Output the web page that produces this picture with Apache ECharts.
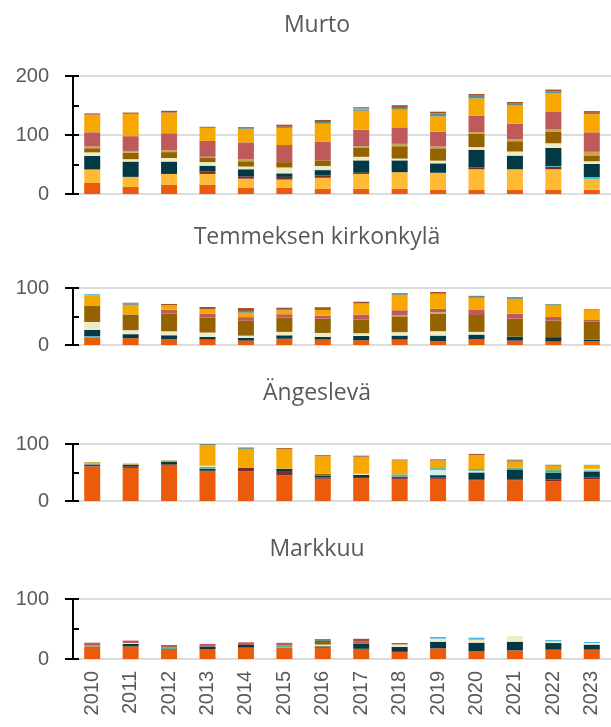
<!DOCTYPE html>
<html>
<head>
<meta charset="utf-8">
<script src="https://cdn.jsdelivr.net/npm/echarts@6/dist/echarts.min.js"></script>
<style>
  html, body { margin: 0; padding: 0; background: #fff; }
  #chart { width: 611px; height: 727px; }
</style>
</head>
<body>
<div id="chart"></div>
<script>
const years = ["2010", "2011", "2012", "2013", "2014", "2015", "2016", "2017", "2018", "2019", "2020", "2021", "2022", "2023"];

// Murto
const murtoOrange = [18.6, 12, 16, 16, 11, 11, 9, 9, 9, 7, 7, 7, 7, 7];
const murtoLightOrange = [23, 17, 18, 18, 15, 13.5, 18.5, 25, 28, 29, 35, 35, 35, 17.5];
const murtoDarkRed = [0, 0, 0, 4, 4, 4.5, 4, 2, 0, 0, 3, 0, 4, 0];
const murtoCyan = [0, 0, 0, 0, 0, 0, 0, 0, 0, 0, 0, 0, 1, 4];
const murtoDarkTeal = [23, 26, 21, 10, 12, 6, 9, 21, 20, 16, 30, 23, 31, 22.5];
const murtoCream = [6, 4, 6, 6, 4.5, 10, 7, 6, 3, 4.5, 4.5, 7, 8, 4.5];
const murtoBrown = [7, 11, 10, 7, 9, 9, 9.5, 15, 21, 21, 22.5, 17.5, 20, 10];
const murtoOlive = [3, 3, 3, 2, 3, 0, 0, 3, 4, 3, 3, 3, 4, 6];
const murtoRose = [24, 25, 29, 27, 29, 29, 32, 28, 28, 25, 28, 26.5, 29, 33];
const murtoAmber = [30, 38, 35, 22, 23, 29, 30, 32, 30, 26, 29, 31, 32, 31];
const murtoGreyTeal = [0, 0, 0, 2, 3, 2, 3, 2, 3, 5, 4.5, 3, 3, 2];
const murtoLightBlue = [0, 0, 0, 0, 0, 0, 0, 2, 0, 0, 0, 0, 0, 0];
const murtoRust = [2, 2, 3, 0, 0, 3.5, 3.5, 2, 4.5, 3, 3, 3, 3, 3];

// Temmeksen kirkonkylä
const temOrange = [13.6, 12, 10.6, 9.5, 7.7, 11, 9.5, 8.3, 9.5, 7, 10, 7.7, 6, 6.5];
const temCyan = [1.8, 0, 0, 0, 0, 0, 0, 0, 0, 0, 0, 0, 0, 0];
const temDarkTeal = [11, 7, 6.5, 4.7, 4.7, 6, 4.7, 7.7, 7, 9.5, 8.3, 7, 7.7, 3];
const temCream = [14, 7, 7, 7.7, 4, 6, 7, 4.7, 6, 7.7, 4.7, 0, 0, 0];
const temBrown = [28, 27.5, 30.8, 26, 26, 25, 25, 23.7, 27.8, 30.8, 29.6, 31.4, 29, 31.4];
const temOlive = [0, 0, 0, 0, 0, 0, 0, 0, 2.4, 2.4, 0, 0, 0, 0];
const temRose = [0, 0, 7, 7, 6.5, 6, 5.3, 9, 8.3, 6, 8.9, 8.9, 6.5, 4];
const temAmber = [19, 17, 7.7, 8.3, 7.7, 7, 10, 19.5, 27, 26.6, 21.3, 26, 20, 16.6];
const temGreyTeal = [0, 2.4, 0, 0, 3, 2, 0, 0, 3, 0, 3.5, 3, 2.4, 0];
const temLightBlue = [1.8, 0, 0, 0, 0, 0, 0, 0, 0, 0, 0, 0, 0, 1.8];
const temRust = [0, 1.2, 2.4, 3.5, 5.3, 2.4, 4.7, 3, 0, 3, 0, 0, 0, 0];

// Ängeslevä
const angOrange = [60.6, 58, 62, 53, 52, 45, 39, 40.6, 38.8, 38.8, 36.5, 36.5, 34.7, 38];
const angDarkRed = [3.5, 2.4, 2.4, 0, 6, 7.7, 2.4, 0, 4, 3, 1.8, 1.8, 3, 3];
const angDarkTeal = [0, 3, 4, 3.5, 0, 3.5, 3, 5.3, 0, 3.5, 11.8, 17, 11.8, 10];
const angLightCyan = [0, 0, 0, 0, 0, 0, 0, 0, 0, 9.4, 3, 0, 0, 0];
const angTeal = [1.8, 0, 0, 3.5, 0, 0, 0, 0, 4, 3, 3, 3, 4.7, 3];
const angCream = [0, 0, 0, 1.8, 0, 0, 0, 1.8, 0, 0, 0, 0, 0, 2.4];
const angBrown = [0, 0, 0, 0, 0, 0, 3.5, 0, 0, 0, 0, 0, 0, 0];
const angOlive = [2.4, 2.4, 3, 0, 0, 1.2, 0, 0, 0, 0, 0, 0, 0, 0];
const angAmber = [0, 0, 0, 36.5, 33.5, 33.5, 30.6, 30, 24.7, 13.5, 24.7, 10.6, 7.6, 5.9];
const angGreyTeal = [0, 0, 0, 1.8, 2.4, 0, 0, 0, 0, 0, 0, 2.4, 1.8, 1.2];
const angRust = [0, 0, 0, 0, 0, 1.8, 1.8, 1.8, 1.2, 1.8, 1.8, 1.2, 0, 0];

// Markkuu
const marOrange = [21, 21, 16.7, 16.7, 19, 19, 19, 17, 12, 17.8, 13.3, 14.4, 15.6, 15.6];
const marDarkTeal = [0, 4, 0, 4, 4.4, 0, 2.2, 8.3, 8.3, 11, 13.9, 14.4, 11, 8.3];
const marTeal = [2.2, 0, 2.2, 0, 0, 4, 0, 0, 0, 0, 0, 0, 0, 0];
const marCream = [0, 1.7, 0, 0, 0, 0, 2.8, 0, 4, 5, 5, 9.5, 2.8, 2.8];
const marBrown = [0, 0, 0, 0, 0, 0, 6, 0, 0, 0, 0, 0, 0, 0];
const marRose = [4, 4, 4.4, 4.4, 4.4, 4, 0, 4.4, 0, 0, 0, 0, 0, 0];
const marGreyTeal = [0, 0, 0, 0, 0, 0, 3.3, 0, 0, 0, 0, 0, 0, 0];
const marLightBlue = [0, 0, 0, 0, 0, 0, 0, 0, 0, 2.8, 3.3, 0, 2.2, 1.7];
const marRust = [0, 0, 0, 0, 0, 0, 0, 4, 2.2, 0, 0, 0, 0, 0];

// stack order bottom -> top, with colours
const colors = {
  orange: "#EA5B0C",
  lightOrange: "#FFB933",
  darkRed: "#7B2D2D",
  cyan: "#3FCFD2",
  darkTeal: "#033845",
  lightCyan: "#CDEFE9",
  teal: "#4DB5A5",
  cream: "#EFEBC7",
  brown: "#946300",
  olive: "#C4A94A",
  rose: "#BE5B5A",
  amber: "#F6A800",
  greyTeal: "#5E8D8F",
  lightBlue: "#4DB6E3",
  rust: "#A0522D",
};

const panels = [
  {
    title: "Murto", titleY: 25, top: 76, height: 118, max: 200,
    data: {
      orange: murtoOrange, lightOrange: murtoLightOrange, darkRed: murtoDarkRed, cyan: murtoCyan,
      darkTeal: murtoDarkTeal, cream: murtoCream, brown: murtoBrown, olive: murtoOlive,
      rose: murtoRose, amber: murtoAmber, greyTeal: murtoGreyTeal, lightBlue: murtoLightBlue, rust: murtoRust,
    },
  },
  {
    title: "Temmeksen kirkonkylä", titleY: 237, top: 288, height: 57, max: 100,
    data: {
      orange: temOrange, cyan: temCyan, darkTeal: temDarkTeal, cream: temCream, brown: temBrown,
      olive: temOlive, rose: temRose, amber: temAmber, greyTeal: temGreyTeal, lightBlue: temLightBlue, rust: temRust,
    },
  },
  {
    title: "Ängeslevä", titleY: 393, top: 444, height: 57, max: 100,
    data: {
      orange: angOrange, darkRed: angDarkRed, darkTeal: angDarkTeal, lightCyan: angLightCyan, teal: angTeal,
      cream: angCream, brown: angBrown, olive: angOlive, amber: angAmber, greyTeal: angGreyTeal, rust: angRust,
    },
  },
  {
    title: "Markkuu", titleY: 549, top: 599, height: 60, max: 100,
    data: {
      orange: marOrange, darkTeal: marDarkTeal, teal: marTeal, cream: marCream, brown: marBrown,
      rose: marRose, greyTeal: marGreyTeal, lightBlue: marLightBlue, rust: marRust,
    },
  },
];

const textColor = "#595959";
const labelFont = "Liberation Sans";

const grid = [];
const xAxis = [];
const yAxis = [];
const series = [];
const graphic = [];

panels.forEach((p, i) => {
  grid.push({ left: 73, right: 0, top: p.top, height: p.height });
  xAxis.push({
    type: "category",
    gridIndex: i,
    data: years,
    axisLine: { show: false },
    axisTick: { show: false },
    axisLabel: {
      show: i === panels.length - 1,
      rotate: 90,
      margin: 12,
      fontSize: 20,
      color: textColor,
      fontFamily: labelFont,
    },
  });
  // main axis: labels, black line, outer half of major ticks, grey gridlines
  yAxis.push({
    type: "value",
    gridIndex: i,
    position: "left",
    min: 0,
    max: p.max,
    interval: 100,
    axisLine: { show: true, lineStyle: { color: "#000", width: 2 } },
    axisTick: { show: true, length: 8, lineStyle: { color: "#000", width: 2 } },
    axisLabel: { margin: 24, fontSize: 20, color: textColor, fontFamily: labelFont },
    splitLine: { show: true, lineStyle: { color: "#DCDCDC", width: 2 } },
  });
  // helper axis: inner ticks every 50
  yAxis.push({
    type: "value",
    gridIndex: i,
    position: "left",
    min: 0,
    max: p.max,
    interval: 50,
    axisLine: { show: false },
    axisTick: { show: true, inside: true, length: 6, lineStyle: { color: "#000", width: 2 } },
    axisLabel: { show: false },
    splitLine: { show: false },
  });

  Object.keys(colors).forEach((key) => {
    if (!p.data[key]) return;
    series.push({
      name: p.title + " " + key,
      type: "bar",
      xAxisIndex: i,
      yAxisIndex: i * 2,
      stack: "s" + i,
      barWidth: 16,
      data: p.data[key],
      itemStyle: { color: colors[key] },
      silent: true,
    });
  });

  graphic.push({
    type: "text",
    x: 317,
    y: p.titleY,
    style: {
      text: p.title,
      fill: textColor,
      font: '23px "Open Sans"',
      textAlign: "center",
      textVerticalAlign: "middle",
    },
  });
});

const chart = echarts.init(document.getElementById("chart"));
chart.setOption({
  animation: false,
  backgroundColor: "#fff",
  grid,
  xAxis,
  yAxis,
  series,
  graphic,
});
</script>
</body>
</html>
